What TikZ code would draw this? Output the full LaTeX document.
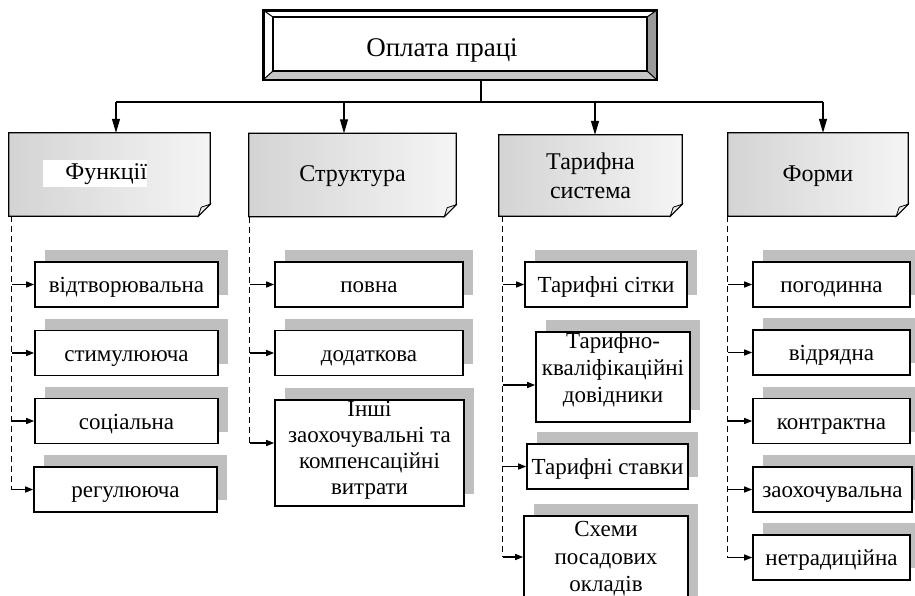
\documentclass[tikz,border=0pt]{standalone}
\usepackage{fontspec}
\setmainfont{Liberation Serif}
\usetikzlibrary{arrows.meta,calc,shadows,backgrounds}

\begin{document}
\begin{tikzpicture}[x=1pt,y=-1pt,
  conn/.style={line width=1.2pt},
  bigarrow/.style={conn,-{Triangle[length=14pt,width=8pt]}},
  smallarrow/.style={conn,-{Triangle[length=8pt,width=6pt]}},
  spine/.style={line width=1.2pt,dash pattern=on 6pt off 4pt},
  headbox/.style={minimum height=83pt,inner sep=0pt,align=center,
    font=\fontsize{24}{29}\selectfont},
  leaftext/.style={align=center,inner sep=0pt,font=\fontsize{23}{26}\selectfont},
  boxonly/.style={draw,line width=1.6pt,fill=white,inner sep=0pt,minimum height=45pt,
    general shadow={fill=black!25,shadow xshift=10pt,shadow yshift=12pt}},
  leaf/.style={boxonly,leaftext,text height=21pt,text depth=5pt},
]
\useasboundingbox (0,0) rectangle (915,596);

% ---- root: bevelled frame ----
\node[draw,line width=1.8pt,fill=white,minimum width=392pt,minimum height=68pt,
  inner sep=0pt,text height=26pt,text depth=2pt,font=\fontsize{27}{30}\selectfont]
  (top) at (460,45) {Оплата праці\hspace*{36pt}};
\fill[black!22] (top.south west) -- (top.south east)
  -- ($(top.south east)+(-10,-9)$) -- ($(top.south west)+(10,-9)$) -- cycle;
\fill[black!40] (top.north east) -- (top.south east)
  -- ($(top.south east)+(-10,-9)$) -- ($(top.north east)+(-10,7)$) -- cycle;
\draw[line width=1pt] (top.north west) -- ++(10,7);
\draw[line width=1pt] (top.north east) -- ++(-10,7);
\draw[line width=1pt] (top.south west) -- ++(10,-9);
\draw[line width=1pt] (top.south east) -- ++(-10,-9);
\draw[line width=1.4pt] ($(top.north west)+(10,7)$) rectangle ($(top.south east)+(-10,-9)$);
\draw[line width=1.8pt] (top.north west) rectangle (top.south east);

% ---- category headers ----
\node[headbox,minimum width=201pt] (h1) at (109.5,174.5) {};
\node[fill=white,inner sep=0pt,minimum height=27pt,text width=104pt,align=right,
  text height=19pt,text depth=6pt,font=\fontsize{24}{28}\selectfont] (h1t) at (95,173.5) {Функції};
\node[headbox,minimum width=207pt,text height=19pt,text depth=5pt] (h2) at (352.5,175) {Структура};
\node[headbox,minimum width=183pt,minimum height=81pt] (h3) at (590.5,175.5) {Тарифна\\система};
\node[headbox,minimum width=180pt,text height=19pt,text depth=5pt] (h4) at (818,174.5) {Форми};

\begin{scope}[on background layer]
\foreach \h in {h1,h2,h3,h4} {
  \shade[left color=black!17,middle color=white,right color=black!4,draw,line width=1.3pt]
    (\h.north west) -- (\h.north east) -- ($(\h.south east)+(0,-12)$)
    -- ($(\h.south east)+(-12,0)$) -- (\h.south west) -- cycle;
  \filldraw[fill=black!8,line width=0.8pt] ($(\h.south east)+(-12,0)$)
    -- ($(\h.south east)+(-9,-9)$) -- ($(\h.south east)+(0,-12)$) -- cycle;
}
\end{scope}

% ---- tree from the root ----
\coordinate (s) at ($(top.south)+(21,0)$);
\coordinate (b1) at (116,102);
\coordinate (b2) at (344,102);
\coordinate (b3) at (595,102);
\coordinate (b4) at (823,102);
\draw[conn] (s) -- (s |- b1);
\draw[conn] (b1) -- (b4);
\draw[bigarrow] (b1) -- (b1 |- h1.north);
\draw[bigarrow] (b2) -- (b2 |- h2.north);
\draw[bigarrow] (b3) -- (b3 |- h3.north);
\draw[bigarrow] (b4) -- (b4 |- h4.north);

% ---- Функції ----
\node[leaf,minimum width=183pt] (k11) at (126.5,284.5) {відтворювальна};
\node[leaf,minimum width=183pt] (k12) at (126.5,353) {стимулююча};
\node[leaf,minimum width=183pt] (k13) at (126.5,421) {соціальна};
\node[leaf,minimum width=183pt] (k14) at (125.5,489.5) {регулююча};

% ---- Структура ----
\node[leaf,minimum width=188pt] (k21) at (369,284.5) {повна};
\node[leaf,minimum width=188pt] (k22) at (369,353) {додаткова};
\node[boxonly,minimum width=189pt,minimum height=106pt] (k23) at (369.5,453) {};
\node[leaftext] (k23t) at (369.5,450.5)
  {Інші\\заохочувальні та\\компенсаційні\\витрати};

% ---- Тарифна система ----
\node[leaf,minimum width=162pt] (k31) at (606,284.5) {Тарифні сітки};
\node[boxonly,minimum width=154pt,minimum height=90pt] (k32) at (613,377) {};
\node[leaftext,font=\fontsize{23}{27}\selectfont] (k32t) at (613,370)
  {Тарифно-\\кваліфікаційні\\довідники};
\node[leaf,minimum width=161pt] (k33) at (607.5,466.5) {Тарифні ставки};
\node[boxonly,minimum width=164pt,minimum height=94pt] (k34) at (606,563) {};
\node[leaftext,font=\fontsize{23}{27.5}\selectfont] (k34t) at (606,559)
  {Схеми\\посадових\\окладів};

% ---- Форми ----
\node[leaf,minimum width=157pt] (k41) at (831.5,284.5) {погодинна};
\node[leaf,minimum width=157pt] (k42) at (831.5,352.5) {відрядна};
\node[leaf,minimum width=157pt] (k43) at (831.5,421) {контрактна};
\node[leaf,minimum width=159pt] (k44) at (832.5,489.5) {заохочувальна};
\node[leaf,minimum width=157pt] (k45) at (831.5,557.5) {нетрадиційна};

% ---- dashed spines with branch arrows ----
\coordinate (d1) at ($(h1.south west)+(3,0)$);
\coordinate (d2) at ($(h2.south west)+(1,0)$);
\coordinate (d3) at ($(h3.south west)+(4,0)$);
\coordinate (d4) at ($(h4.south west)+(0,0)$);

\draw[spine] (d1) -- (d1 |- k14.west);
\foreach \k in {k11,k12,k13,k14}
  \draw[smallarrow] (d1 |- \k.west) -- (\k.west);

\coordinate (a23) at ($(k23.west)+(0,-10)$);
\draw[spine] (d2) -- (d2 |- a23);
\draw[smallarrow] (d2 |- k21.west) -- (k21.west);
\draw[smallarrow] (d2 |- k22.west) -- (k22.west);
\draw[smallarrow] (d2 |- a23) -- (a23);

\coordinate (a32) at ($(k32.west)+(0,8)$);
\coordinate (a34) at ($(k34.west)+(0,-6)$);
\draw[spine] (d3) -- (d3 |- a34);
\draw[smallarrow] (d3 |- k31.west) -- (k31.west);
\draw[smallarrow] (d3 |- a32) -- (a32);
\draw[smallarrow] (d3 |- k33.west) -- (k33.west);
\draw[smallarrow] (d3 |- a34) -- (a34);

\draw[spine] (d4) -- (d4 |- k45.west);
\foreach \k in {k41,k42,k43,k44,k45}
  \draw[smallarrow] (d4 |- \k.west) -- (\k.west);
\end{tikzpicture}
\end{document}
